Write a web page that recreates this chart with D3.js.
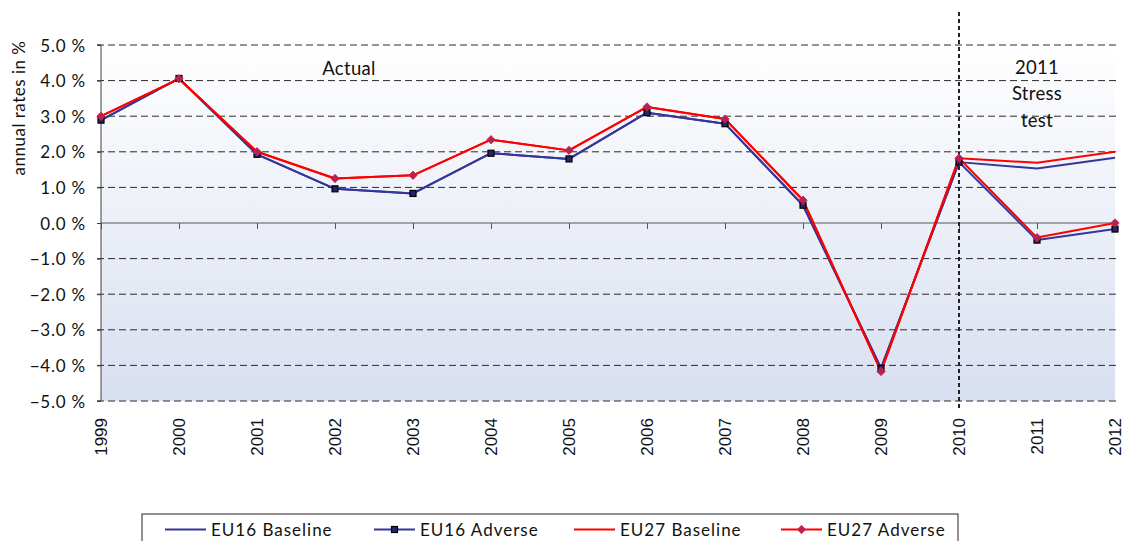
<!DOCTYPE html>
<html>
<head>
<meta charset="utf-8">
<script src="https://cdn.jsdelivr.net/npm/d3@7"></script>
<style>
  html, body { margin: 0; padding: 0; background: #ffffff; }
  svg { display: block; }
</style>
</head>
<body>
<svg id="chart" width="1126" height="541"></svg>
<script>
const years = [1999, 2000, 2001, 2002, 2003, 2004, 2005, 2006, 2007, 2008, 2009, 2010, 2011, 2012];
const eu16Baseline = [2.89, 4.06, 1.93, 0.96, 0.83, 1.96, 1.80, 3.10, 2.79, 0.50, -4.08, 1.71, 1.53, 1.83];
const eu16Adverse  = [2.89, 4.06, 1.93, 0.96, 0.83, 1.96, 1.80, 3.10, 2.79, 0.50, -4.08, 1.71, -0.48, -0.17];
const eu27Baseline = [3.00, 4.05, 2.00, 1.25, 1.34, 2.34, 2.04, 3.26, 2.92, 0.64, -4.17, 1.82, 1.69, 2.00];
const eu27Adverse  = [3.00, 4.05, 2.00, 1.25, 1.34, 2.34, 2.04, 3.26, 2.92, 0.64, -4.17, 1.82, -0.41, 0.00];
const yTicks = [5, 4, 3, 2, 1, 0, -1, -2, -3, -4, -5];
const seriesNames = ["EU16 Baseline", "EU16 Adverse", "EU27 Baseline", "EU27 Adverse"];
const yAxisTitle = "annual rates in %";
const periodLabels = ["Actual", "2011", "Stress", "test"];

const series = [
  { name: seriesNames[0], values: eu16Baseline, color: "#35359a", marker: null },
  { name: seriesNames[1], values: eu16Adverse,  color: "#35359a", marker: "square" },
  { name: seriesNames[2], values: eu27Baseline, color: "#ff0000", marker: null },
  { name: seriesNames[3], values: eu27Adverse,  color: "#ff0000", marker: "diamond" }
];

const svg = d3.select("#chart");
const L = 101, R = 1115, T = 45, B = 401;
const font = "Lato, 'Open Sans', sans-serif";

const x = d3.scalePoint().domain(years).range([L, R]);
const y = d3.scaleLinear().domain([-5, 5]).range([B, T]);

// background gradient
const defs = svg.append("defs");
const grad = defs.append("linearGradient").attr("id", "bg").attr("x1", 0).attr("y1", 0).attr("x2", 0).attr("y2", 1);
grad.append("stop").attr("offset", "0%").attr("stop-color", "#ffffff");
grad.append("stop").attr("offset", "100%").attr("stop-color", "#d8dff0");
svg.append("rect").attr("x", L).attr("y", T).attr("width", R - L).attr("height", B - T).attr("fill", "url(#bg)");

// dashed gridlines
svg.append("g").selectAll("line").data(yTicks.filter(d => d !== 0)).join("line")
  .attr("x1", L - 4).attr("x2", R + 2)
  .attr("y1", d => y(d)).attr("y2", d => y(d))
  .attr("stroke", "#2a2a2a").attr("stroke-width", 1).attr("stroke-dasharray", "7,4");

// y axis
const yAxis = d3.axisLeft(y).tickValues(yTicks).tickSize(4).tickFormat(d => d3.format(".1f")(d) + " %");
const gy = svg.append("g").attr("transform", `translate(${L},0)`).call(yAxis);
gy.select(".domain").attr("stroke", "#404040").attr("d", `M-4,${T}H0V${B}H-4`);
gy.selectAll(".tick line").attr("stroke", "#404040");
gy.selectAll(".tick text").attr("x", -15).attr("dy", "0.36em")
  .style("font-family", font).style("font-size", "17px").style("letter-spacing", "0.8px").attr("fill", "#111");

// zero line with year ticks
const xAxis = d3.axisBottom(x).tickSize(6).tickFormat("");
const gx0 = svg.append("g").attr("transform", `translate(0,${y(0)})`).call(xAxis);
gx0.select(".domain").attr("stroke", "#555").attr("d", `M${L},0H${R}`);
gx0.selectAll(".tick line").attr("stroke", "#555");

// year labels
const labelAxis = d3.axisBottom(x).tickSize(0).tickFormat(d => String(d));
const gx = svg.append("g").attr("transform", `translate(0,${B})`).call(labelAxis);
gx.select(".domain").remove();
gx.selectAll(".tick text")
  .attr("transform", "rotate(-90)")
  .attr("x", -17).attr("y", 0).attr("dy", "0.35em")
  .attr("text-anchor", "end")
  .style("font-family", "'Liberation Sans', Arial, sans-serif").style("font-size", "17px").attr("fill", "#111");

// y axis title
svg.append("text").attr("transform", "translate(25,108) rotate(-90)")
  .attr("text-anchor", "middle")
  .style("font-family", font).style("font-size", "17px").style("letter-spacing", "0.5px").attr("fill", "#111")
  .text(yAxisTitle);

// vertical dashed separator at 2010
svg.append("line").attr("x1", x(2010)).attr("x2", x(2010)).attr("y1", 12).attr("y2", 410)
  .attr("stroke", "#222").attr("stroke-width", 2).attr("stroke-dasharray", "4,3");

// period labels
svg.append("text").attr("x", 349).attr("y", 74.5).attr("text-anchor", "middle")
  .style("font-family", font).style("font-size", "18.5px").style("letter-spacing", "0.3px").attr("fill", "#111").text(periodLabels[0]);
[1, 2, 3].forEach((i, k) => {
  svg.append("text").attr("x", x(2011)).attr("y", 74 + k * 26.3).attr("text-anchor", "middle")
    .style("font-family", font).style("font-size", "18.5px").style("letter-spacing", "0.3px").attr("fill", "#111").text(periodLabels[i]);
});

// lines
const line = d3.line().x((d, i) => x(years[i])).y(d => y(d));
series.forEach(s => {
  svg.append("path").datum(s.values).attr("d", line)
    .attr("fill", "none").attr("stroke", s.color).attr("stroke-width", 2).attr("stroke-linejoin", "round");
});

function drawMarker(g, type, cx, cy) {
  if (type === "square") {
    g.append("rect").attr("x", cx - 3).attr("y", cy - 3).attr("width", 6).attr("height", 6)
      .attr("fill", "#23236e").attr("stroke", "#000").attr("stroke-width", 1.2);
  } else if (type === "diamond") {
    g.append("path").attr("d", `M${cx},${cy - 4.2}L${cx + 4.2},${cy}L${cx},${cy + 4.2}L${cx - 4.2},${cy}Z`)
      .attr("fill", "#b02458").attr("stroke", "#d8203e").attr("stroke-width", 0.8);
  }
}
series.filter(s => s.marker).forEach(s => {
  const g = svg.append("g");
  s.values.forEach((v, i) => drawMarker(g, s.marker, x(years[i]), y(v)));
});

// legend
const lg = svg.append("g");
lg.append("rect").attr("x", 142).attr("y", 514).attr("width", 816).attr("height", 40)
  .attr("fill", "#fff").attr("stroke", "#222").attr("stroke-width", 1);
const legX = [165, 374, 574, 781];
series.forEach((s, i) => {
  const lx = legX[i], ly = 529.5;
  lg.append("line").attr("x1", lx).attr("x2", lx + 41).attr("y1", ly).attr("y2", ly)
    .attr("stroke", s.color).attr("stroke-width", 2);
  if (s.marker) drawMarker(lg, s.marker, lx + 20.5, ly);
  lg.append("text").attr("x", lx + 46).attr("y", ly).attr("dy", "0.36em")
    .style("font-family", font).style("font-size", "17px").style("letter-spacing", "1px").attr("fill", "#111").text(s.name);
});
</script>
</body>
</html>
